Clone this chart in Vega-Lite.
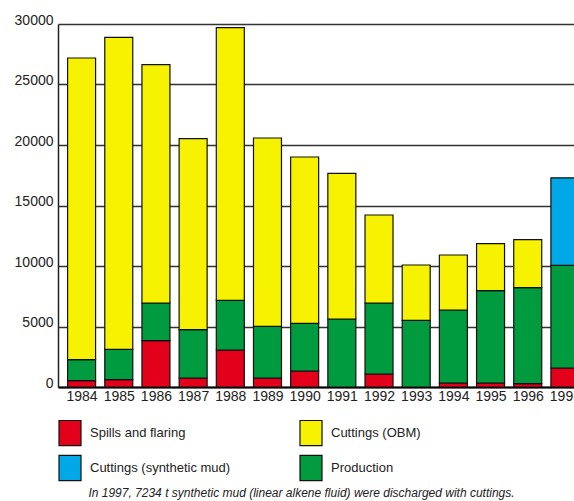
{
  "$schema": "https://vega.github.io/schema/vega-lite/v6.json",
  "autosize": {"type": "none"},
  "padding": {"left": 58, "top": 24, "right": 0, "bottom": 114},
  "width": 516,
  "height": 363,
  "background": "white",
  "config": {
    "view": {"stroke": null},
    "font": "Liberation Sans, Arial, sans-serif"
  },
  "data": {
    "values": [
      {"year": 1984, "series": "Spills and flaring", "rank": 1, "value": 521},
      {"year": 1984, "series": "Production", "rank": 2, "value": 1735},
      {"year": 1984, "series": "Cuttings (OBM)", "rank": 3, "value": 24934},
      {"year": 1985, "series": "Spills and flaring", "rank": 1, "value": 603},
      {"year": 1985, "series": "Production", "rank": 2, "value": 2504},
      {"year": 1985, "series": "Cuttings (OBM)", "rank": 3, "value": 25786},
      {"year": 1986, "series": "Spills and flaring", "rank": 1, "value": 3826},
      {"year": 1986, "series": "Production", "rank": 2, "value": 3116},
      {"year": 1986, "series": "Cuttings (OBM)", "rank": 3, "value": 19694},
      {"year": 1987, "series": "Spills and flaring", "rank": 1, "value": 744},
      {"year": 1987, "series": "Production", "rank": 2, "value": 3992},
      {"year": 1987, "series": "Cuttings (OBM)", "rank": 3, "value": 15785},
      {"year": 1988, "series": "Spills and flaring", "rank": 1, "value": 3058},
      {"year": 1988, "series": "Production", "rank": 2, "value": 4099},
      {"year": 1988, "series": "Cuttings (OBM)", "rank": 3, "value": 22537},
      {"year": 1989, "series": "Spills and flaring", "rank": 1, "value": 744},
      {"year": 1989, "series": "Production", "rank": 2, "value": 4264},
      {"year": 1989, "series": "Cuttings (OBM)", "rank": 3, "value": 15571},
      {"year": 1990, "series": "Spills and flaring", "rank": 1, "value": 1322},
      {"year": 1990, "series": "Production", "rank": 2, "value": 3934},
      {"year": 1990, "series": "Cuttings (OBM)", "rank": 3, "value": 13752},
      {"year": 1991, "series": "Production", "rank": 2, "value": 5620},
      {"year": 1991, "series": "Cuttings (OBM)", "rank": 3, "value": 12033},
      {"year": 1992, "series": "Spills and flaring", "rank": 1, "value": 1074},
      {"year": 1992, "series": "Production", "rank": 2, "value": 5868},
      {"year": 1992, "series": "Cuttings (OBM)", "rank": 3, "value": 7273},
      {"year": 1993, "series": "Production", "rank": 2, "value": 5504},
      {"year": 1993, "series": "Cuttings (OBM)", "rank": 3, "value": 4579},
      {"year": 1994, "series": "Spills and flaring", "rank": 1, "value": 330},
      {"year": 1994, "series": "Production", "rank": 2, "value": 6034},
      {"year": 1994, "series": "Cuttings (OBM)", "rank": 3, "value": 4545},
      {"year": 1995, "series": "Spills and flaring", "rank": 1, "value": 330},
      {"year": 1995, "series": "Production", "rank": 2, "value": 7629},
      {"year": 1995, "series": "Cuttings (OBM)", "rank": 3, "value": 3884},
      {"year": 1996, "series": "Spills and flaring", "rank": 1, "value": 273},
      {"year": 1996, "series": "Production", "rank": 2, "value": 7934},
      {"year": 1996, "series": "Cuttings (OBM)", "rank": 3, "value": 3967},
      {"year": 1997, "series": "Spills and flaring", "rank": 1, "value": 1570},
      {"year": 1997, "series": "Production", "rank": 2, "value": 8480},
      {"year": 1997, "series": "Cuttings (synthetic mud)", "rank": 4, "value": 7234}
    ]
  },
  "mark": {"type": "bar", "size": 28, "stroke": "#111", "strokeWidth": 1.2, "clip": true},
  "encoding": {
    "x": {
      "field": "year",
      "type": "quantitative",
      "scale": {"domain": [1983.5, 1997.11], "nice": false, "zero": false},
      "axis": {
        "values": [1984, 1984.5, 1985, 1985.5, 1986, 1986.5, 1987, 1987.5, 1988, 1988.5, 1989, 1989.5, 1990, 1990.5, 1991, 1991.5, 1992, 1992.5, 1993, 1993.5, 1994, 1994.5, 1995, 1995.5, 1996, 1996.5, 1997],
        "format": "d",
        "labelExpr": "datum.value % 1 === 0 ? datum.label : ''",
        "labelOverlap": false,
        "labelFlush": false,
        "labelFontSize": 14,
        "labelColor": "#222",
        "labelPadding": 11,
        "grid": false,
        "domainColor": "#000",
        "domainWidth": 2,
        "tickColor": "#000",
        "tickWidth": 1.5,
        "tickSize": -9,
        "tickOpacity": {"condition": {"test": "datum.value % 1 === 0", "value": 0}, "value": 1},
        "title": "In 1997, 7234 t synthetic mud (linear alkene fluid) were discharged with cuttings.",
        "titleFontStyle": "italic",
        "titleFontWeight": "normal",
        "titleFontSize": 12,
        "titleColor": "#222",
        "titleX": 243,
        "titleY": 109,
        "titleAlign": "center",
        "titleBaseline": "alphabetic"
      }
    },
    "y": {
      "field": "value",
      "type": "quantitative",
      "stack": "zero",
      "scale": {"domain": [0, 30000], "nice": false},
      "axis": {
        "values": [0, 5000, 10000, 15000, 20000, 25000, 30000],
        "format": "d",
        "title": null,
        "ticks": false,
        "labelFontSize": 14,
        "labelColor": "#222",
        "labelPadding": 5,
        "labelBaseline": "alphabetic",
        "labelOffset": 0,
        "domainColor": "#222",
        "domainWidth": 1.5,
        "gridColor": "#333",
        "gridWidth": 1.3
      }
    },
    "order": {"field": "rank", "type": "quantitative"},
    "color": {
      "field": "series",
      "type": "nominal",
      "scale": {
        "domain": ["Spills and flaring", "Cuttings (synthetic mud)", "Cuttings (OBM)", "Production"],
        "range": ["#e2001a", "#00a8e8", "#f7f200", "#009b3e"]
      },
      "legend": {
        "orient": "none",
        "legendX": 0,
        "legendY": 397,
        "columns": 2,
        "title": null,
        "padding": 0,
        "symbolType": "M-1,-1.14H1V1.14H-1Z",
        "symbolSize": 484,
        "symbolStrokeColor": "#111",
        "symbolStrokeWidth": 1.2,
        "symbolOpacity": 1,
        "labelFontSize": 13,
        "labelColor": "#222",
        "labelOffset": 8,
        "labelLimit": 300,
        "columnPadding": 66,
        "rowPadding": 5
      }
    }
  }
}
